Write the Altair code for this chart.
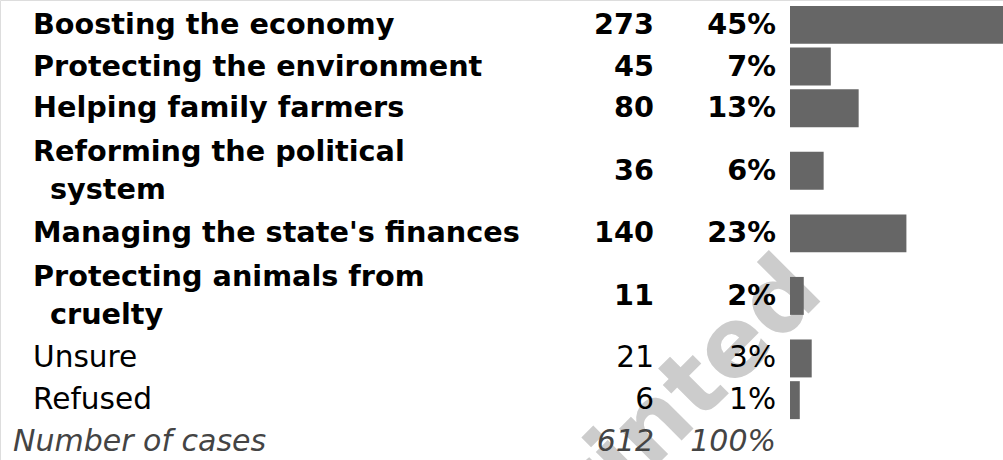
import altair as alt
import pandas as pd

# ---- data ----
labels = [
    "Boosting the economy",
    "Protecting the environment",
    "Helping family farmers",
    "Reforming the political\nsystem",
    "Managing the state's finances",
    "Protecting animals from\ncruelty",
    "Unsure",
    "Refused",
]
counts = [273, 45, 80, 36, 140, 11, 21, 6]
styles = ["bold", "bold", "bold", "bold", "bold", "bold", "normal", "normal"]
total_label = "Number of cases"
total_count = 612
total_pct_label = "100%"
watermark = ["Printed"]

FONT = "DejaVu Sans"
SLOT = 41.7
LINE_H = 38

rows = []
lines_rows = []
start = 0.0
for lab, c, s in zip(labels, counts, styles):
    parts = lab.split("\n")
    n = len(parts)
    center = start + n / 2
    start += n
    pct = c / total_count * 100
    rows.append(dict(count=str(c), pct=pct, pct_label=f"{round(pct)}%",
                     center=center, style=s))
    for i, p in enumerate(parts):
        lines_rows.append(dict(line=p, idx=i, center=center, nlines=n, style=s))
rows.append(dict(count=str(total_count), pct=None, pct_label=total_pct_label,
                 center=start + 0.5, style="total"))
lines_rows.append(dict(line=total_label, idx=0, center=start + 0.5, nlines=1, style="total"))
df = pd.DataFrame(rows)
dl = pd.DataFrame(lines_rows)
nslots = start + 1

yscale = alt.Scale(domain=[0, nslots], range=[4, 4 + SLOT * nslots])
xscale = alt.Scale(domain=[0, 100], range=[795, 1282])

lbase = alt.Chart(dl).transform_calculate(
    ty=f"datum.center + (datum.idx - (datum.nlines - 1) / 2) * {LINE_H / SLOT}"
)
base = alt.Chart(df)

wm = alt.Chart(pd.DataFrame({"t": watermark})).mark_text(
    font="DejaVu Sans", fontWeight="bold", fontSize=96, color="#cccccc",
    angle=315, align="right", baseline="alphabetic"
).encode(x=alt.value(826), y=alt.value(296), text="t:N")

bars = base.transform_filter("datum.pct != null").transform_calculate(
    y0="datum.center - 0.455", y1="datum.center + 0.455"
).mark_rect(color="#666666", clip=True).encode(
    x=alt.X("pct:Q", scale=xscale, axis=None),
    x2=alt.value(790),
    y=alt.Y("y0:Q", scale=yscale, axis=None),
    y2="y1:Q",
)

def text_layers(style, size, weight, italic, color, lx):
    kw = dict(font=FONT, fontSize=size, fontWeight=weight, color=color, baseline="middle",
              fontStyle="italic" if italic else "normal")
    ld = lbase.transform_filter(f"datum.style == '{style}'")
    first = ld.transform_filter("datum.idx == 0").mark_text(align="left", **kw).encode(
        x=alt.value(lx), y=alt.Y("ty:Q", scale=yscale, axis=None), text="line:N")
    cont = ld.transform_filter("datum.idx > 0").mark_text(align="left", **kw).encode(
        x=alt.value(lx + 17), y=alt.Y("ty:Q", scale=yscale, axis=None), text="line:N")
    d = base.transform_filter(f"datum.style == '{style}'")
    cnt = d.mark_text(align="right", **kw).encode(
        x=alt.value(654), y=alt.Y("center:Q", scale=yscale, axis=None), text="count:N")
    pc = d.mark_text(align="right", **kw).encode(
        x=alt.value(776), y=alt.Y("center:Q", scale=yscale, axis=None), text="pct_label:N")
    return [first, cont, cnt, pc]

layers = [wm, bars]
layers += text_layers("bold", 28.7, "bold", False, "#000000", 33)
layers += text_layers("normal", 29.6, "normal", False, "#000000", 33)
layers += text_layers("total", 30, "normal", True, "#444444", 13)

chart = alt.layer(*layers).properties(
    width=1003, height=460, padding=0, autosize=alt.AutoSizeParams(type="none")
).configure_view(stroke=None).configure(background="white")

chart.save("out.html", embed_options={"renderer": "svg", "actions": False})
